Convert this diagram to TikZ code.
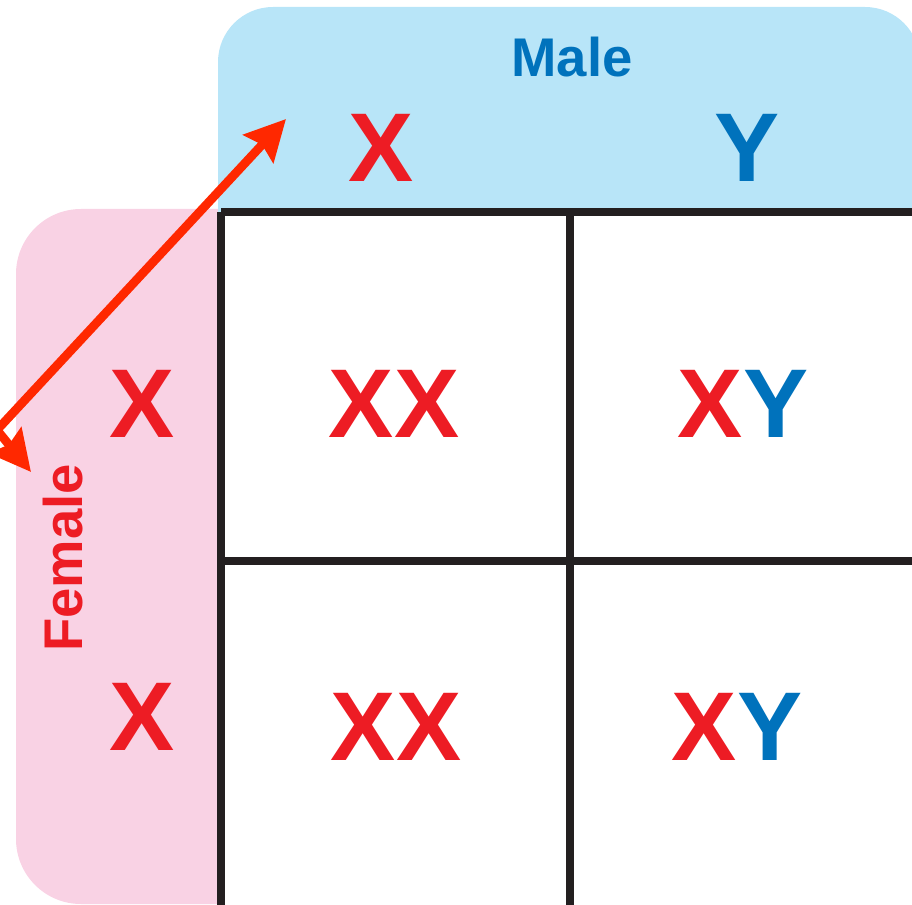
\documentclass[tikz,border=0pt]{standalone}
\usepackage{fontspec}
\setmainfont{Liberation Sans}
\usetikzlibrary{arrows.meta}
\definecolor{txtred}{HTML}{ED1C24}
\definecolor{txtblue}{HTML}{0072BC}
\definecolor{arrred}{HTML}{FF2800}
\definecolor{bgblue}{HTML}{B8E5F8}
\definecolor{bgpink}{HTML}{F9D2E4}
\definecolor{gridline}{HTML}{231F20}
\tikzset{
  big/.style={font=\fontsize{55.6}{60}\selectfont\bfseries, inner sep=0pt, anchor=base},
  lab/.style={font=\fontsize{31}{36}\selectfont\bfseries, inner sep=0pt, anchor=base},
  gridl/.style={draw=gridline, line width=4pt},
  arr/.style={draw=arrred, line width=5pt, line join=miter,
    {Stealth[length=23pt,width=23pt,inset=3pt]}-{Stealth[length=23pt,width=23pt,inset=3pt]}}
}
\begin{document}
\begin{tikzpicture}[x=0.02cm,y=-0.02cm]
\useasboundingbox (0,0) rectangle (912,905);
\clip (0,0) rectangle (912,905);
% pink panel
\fill[bgpink, rounded corners=65*0.569pt] (16,209) rectangle (400,904);
% blue panel
\fill[bgblue, rounded corners=55*0.569pt] (218,7) rectangle (920,400);
\fill[bgblue] (218,150) rectangle (400,400);
% white grid area
\fill[white] (221,212) rectangle (950,950);
% grid lines
\draw[gridl] (221,212) -- (960,212);
\draw[gridl] (221,561) -- (960,561);
\draw[gridl] (221,212) -- (221,960);
\draw[gridl] (570,212) -- (570,960);
% labels
\node[lab, text=txtblue] (male) at (572,77) {Male};
\node[lab, text=txtred, rotate=90, anchor=base] (female) at (82,558) {Female};
\node[big, text=txtred] (mx) at (381,182) {X};
\node[big, text=txtblue] (my) at (747,182) {Y};
\node[big, text=txtred] (fx1) at (142,437) {X};
\node[big, text=txtred] (fx2) at (142,750) {X};
\node[big, text=txtred] (c11) at (394,437) {XX};
\node[big] (c12) at (743,437) {\textcolor{txtred}{X}\textcolor{txtblue}{Y}};
\node[big, text=txtred] (c21) at (396,760) {XX};
\node[big] (c22) at (737,760) {\textcolor{txtred}{X}\textcolor{txtblue}{Y}};
% arrow
\coordinate (tipT) at (286,119);
\coordinate (bend) at (-3,430);
\coordinate (tipL) at (31,472);
\draw[arr] (tipL) -- (bend) -- (tipT);
\end{tikzpicture}
\end{document}
